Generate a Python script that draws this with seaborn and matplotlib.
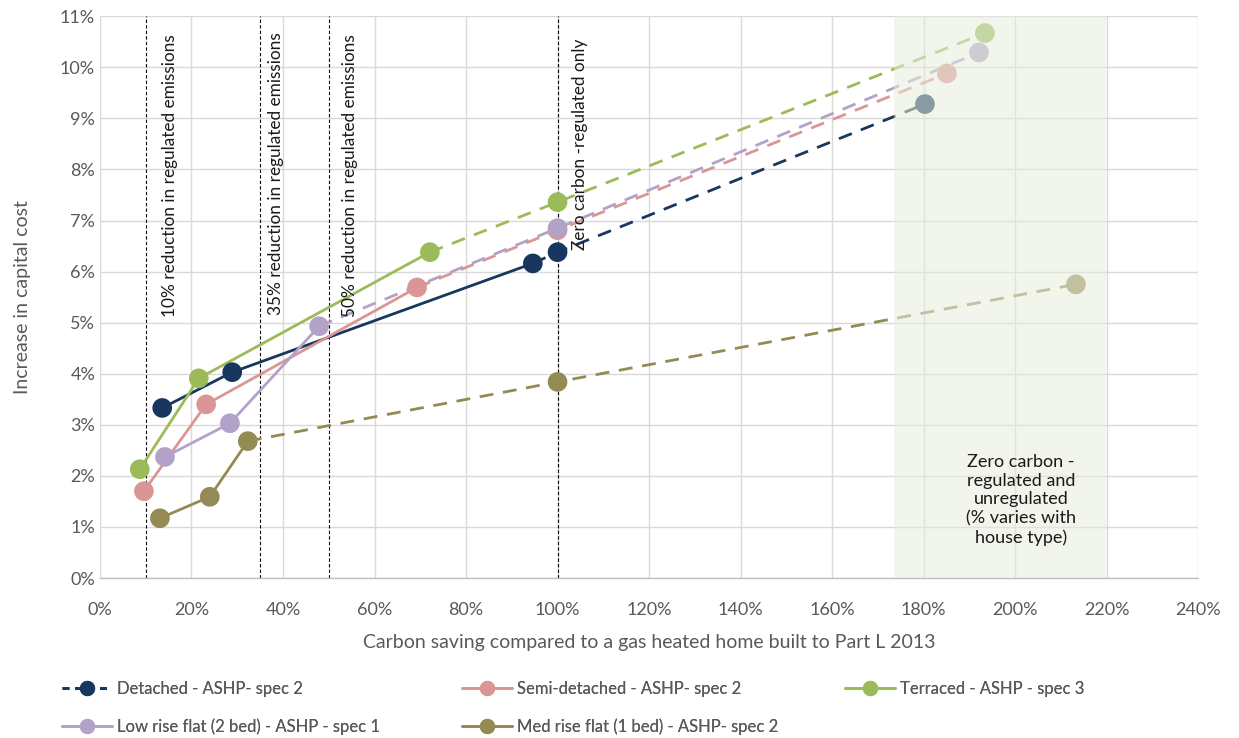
import matplotlib
matplotlib.use("Agg")
import matplotlib.pyplot as plt
from matplotlib.lines import Line2D
from matplotlib.ticker import FuncFormatter, MultipleLocator
import pandas as pd
import seaborn as sns

# --------------------------------------------------
# Capital cost increase vs carbon saving, per house type
# (in percent)
# --------------------------------------------------

series_names = [
    "Detached - ASHP- spec 2",
    "Semi-detached - ASHP- spec 2",
    "Terraced - ASHP - spec 3",
    "Low rise flat (2 bed) - ASHP - spec 1",
    "Med rise flat (1 bed) - ASHP- spec 2",
]

detached_x = [13.6, 28.9, 94.6, 100.0, 180.3]
detached_y = [3.33, 4.03, 6.16, 6.38, 9.28]

semi_x = [9.6, 23.2, 69.3, 100.0, 185.1]
semi_y = [1.70, 3.40, 5.69, 6.81, 9.88]

terraced_x = [8.7, 21.6, 72.1, 100.0, 193.4]
terraced_y = [2.13, 3.91, 6.38, 7.36, 10.67]

lowrise_x = [14.2, 28.4, 47.9, 100.0, 192.1]
lowrise_y = [2.37, 3.03, 4.93, 6.85, 10.29]

medrise_x = [13.1, 24.0, 32.3, 100.0, 213.3]
medrise_y = [1.17, 1.59, 2.68, 3.84, 5.75]

# number of points joined by a solid line, the rest is dashed
solid_points = [3, 3, 3, 3, 3]

series_colors = ["#17375E", "#DA9694", "#9BBB59", "#B3A2C7", "#948A54"]

# reference lines (percent carbon saving) and their labels
ref_lines = [10, 35, 50, 100]
ref_labels = [
    "10% reduction in regulated emissions",
    "35% reduction in regulated emissions",
    "50% reduction in regulated emissions",
    "Zero carbon -regulated only",
]
ref_label_x = [15.3, 38.5, 54.7, 105.0]
ref_label_top = [10.64, 10.68, 10.64, 10.56]

zone_start, zone_end = 173.5, 219.8
zone_label = "Zero carbon -\nregulated and\nunregulated\n(% varies with\nhouse type)"

TEXT_GREY = "#595959"


def build_frame():
    # long table: one row per point
    xs = [detached_x, semi_x, terraced_x, lowrise_x, medrise_x]
    ys = [detached_y, semi_y, terraced_y, lowrise_y, medrise_y]
    rows = []
    for name, x, y, n_solid in zip(series_names, xs, ys, solid_points):
        for i, (xv, yv) in enumerate(zip(x, y)):
            rows.append({"series": name, "x": xv, "y": yv, "idx": i, "solid": n_solid})
    return pd.DataFrame(rows)


def main():
    sns.set_theme(style="whitegrid")
    plt.rcParams["font.family"] = ["Lato", "DejaVu Sans"]

    df = build_frame()
    palette = dict(zip(series_names, series_colors))

    fig, ax = plt.subplots(figsize=(12.39, 7.38), dpi=100)
    fig.subplots_adjust(left=0.0807, right=0.967, top=0.978, bottom=0.2168)

    # lines: solid part first, then the dashed projection
    for name in series_names:
        part = df[df["series"] == name]
        n_solid = part["solid"].iloc[0]
        solid = part[part["idx"] < n_solid]
        dashed = part[part["idx"] >= n_solid - 1]
        sns.lineplot(data=solid, x="x", y="y", color=palette[name], lw=2,
                     sort=False, ax=ax, zorder=3)
        sns.lineplot(data=dashed, x="x", y="y", color=palette[name], lw=2,
                     sort=False, ax=ax, zorder=3)
        ax.lines[-1].set_linestyle((0, (5, 3.5)))

    sns.scatterplot(data=df, x="x", y="y", hue="series", palette=palette,
                    s=200, edgecolor="none", legend=False, ax=ax, zorder=4)

    # reference lines and their rotated labels
    for xv, label, lx, ly in zip(ref_lines, ref_labels, ref_label_x, ref_label_top):
        ax.axvline(xv, color="black", lw=0.8, ls=(0, (3, 2)), zorder=2)
        ax.text(lx, ly, label, rotation=90, ha="center", va="top",
                fontsize=12.4, color="#1a1a1a", zorder=6)

    # shaded zone, drawn over the points so they look faded
    ax.axvspan(zone_start, zone_end, ymin=-0.006, ymax=1.0, color="#E7EDDD",
               alpha=0.55, lw=0, zorder=5)
    ax.text(201.3, 1.53, zone_label, ha="center", va="center", fontsize=13,
            color="#1a1a1a", linespacing=1.22, zorder=6)

    # axes, ticks and grid
    ax.set_xlim(0, 240)
    ax.set_ylim(0, 11)
    ax.xaxis.set_major_locator(MultipleLocator(20))
    ax.yaxis.set_major_locator(MultipleLocator(1))
    ax.xaxis.set_major_formatter(FuncFormatter(lambda v, p: f"{v:.0f}%"))
    ax.yaxis.set_major_formatter(FuncFormatter(lambda v, p: f"{v:.0f}%"))
    ax.tick_params(axis="both", length=0, labelsize=13, labelcolor=TEXT_GREY)
    ax.tick_params(axis="x", pad=17)
    ax.grid(True, color="#D9D9D9", lw=1)
    for side in ["top", "right", "left"]:
        ax.spines[side].set_visible(False)
    ax.spines["bottom"].set_color("#BFBFBF")
    ax.spines["bottom"].set_linewidth(1)

    ax.set_xlabel("Carbon saving compared to a gas heated home built to Part L 2013",
                  fontsize=14, color=TEXT_GREY, labelpad=12)
    ax.set_ylabel("Increase in capital cost", fontsize=14, color=TEXT_GREY, labelpad=21)

    # legend: three separate columns placed like the reference
    handles = []
    for n, color in enumerate(series_colors):
        ls = (0, (2.5, 2)) if n == 0 else "-"
        handles.append(Line2D([0], [0], color=color, lw=2, ls=ls, marker="o",
                              markersize=11, markeredgewidth=0))
    columns = [[0, 3], [1, 4], [2]]
    column_x = [62, 462, 845]
    for idx, cx in zip(columns, column_x):
        leg = fig.legend([handles[i] for i in idx], [series_names[i] for i in idx],
                         loc="upper left", bbox_to_anchor=(cx / 1239, 1 - 681 / 738),
                         frameon=False, fontsize=12, labelcolor=TEXT_GREY,
                         handlelength=3.0, handletextpad=0.3, labelspacing=1.3,
                         borderpad=0, borderaxespad=0)
        fig.add_artist(leg)

    fig.savefig("out.png", dpi=100)
    plt.close(fig)


if __name__ == "__main__":
    main()
